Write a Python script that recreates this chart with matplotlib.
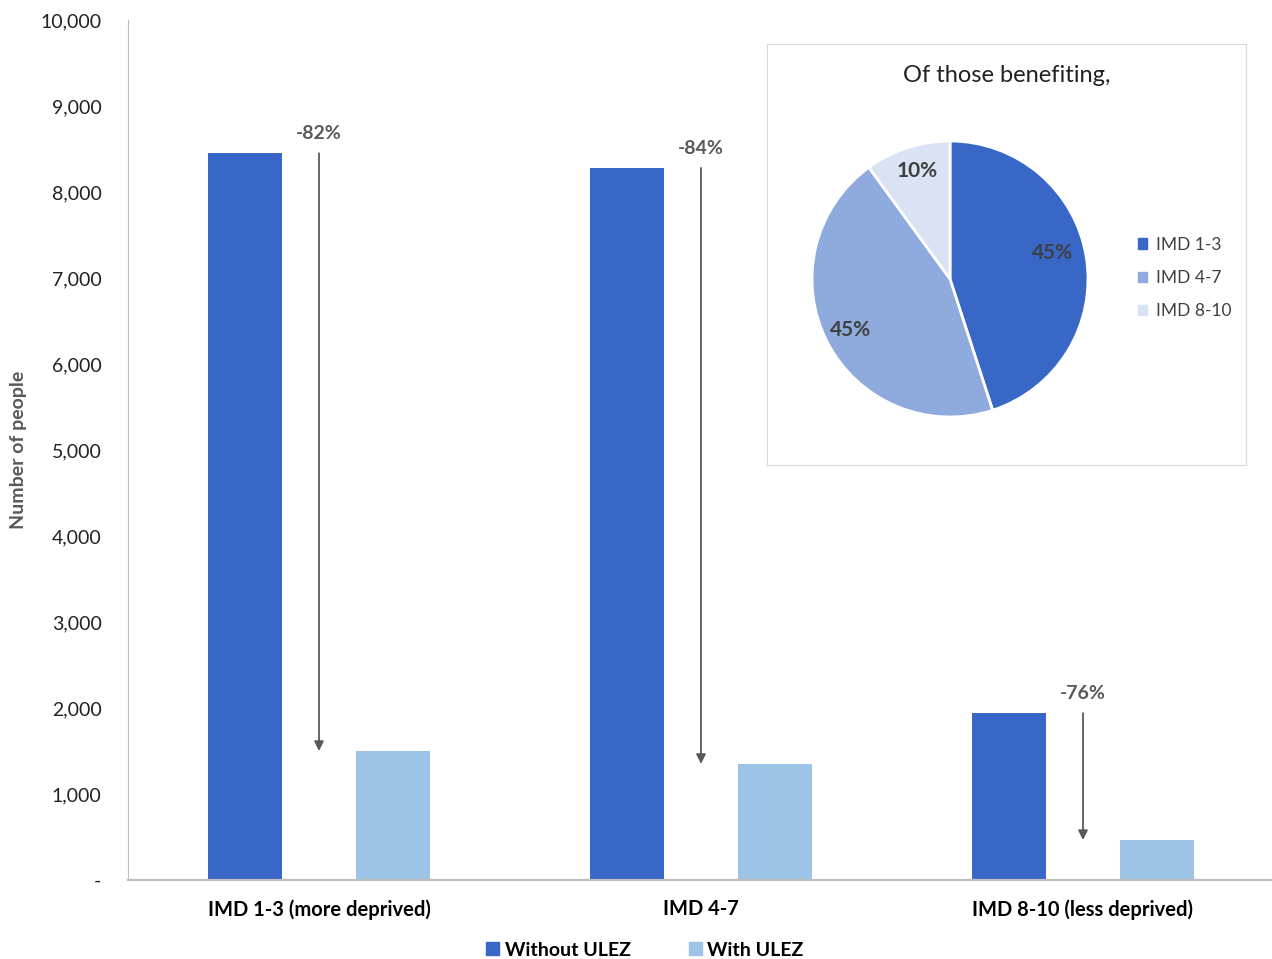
import matplotlib.pyplot as plt
from matplotlib.patches import Patch
from matplotlib.ticker import FuncFormatter

plt.rcParams['font.family'] = ['Lato', 'DejaVu Sans']

groups = ['IMD 1-3 (more deprived)', 'IMD 4-7', 'IMD 8-10 (less deprived)']
without_ulez = [8450, 8280, 1940]
with_ulez = [1500, 1350, 465]
change_labels = ['-82%', '-84%', '-76%']

pie_labels = ['IMD 1-3', 'IMD 4-7', 'IMD 8-10']
pie_shares = [45, 45, 10]

dark = '#3867C8'
light = '#9DC3E6'
pie_cols = [dark, '#8FAADC', '#DAE3F3']
grey = '#595959'

W, H = 1272, 959
fig = plt.figure(figsize=(W / 100, H / 100), dpi=100)

def px(x0, y0, x1, y1):
    return [x0 / W, (H - y1) / H, (x1 - x0) / W, (y1 - y0) / H]

ax = fig.add_axes(px(128, 20, 1274, 880))
x = range(len(groups))
bw = 0.193
ax.bar([i - bw for i in x], without_ulez, bw, color=dark, label='Without ULEZ')
ax.bar([i + bw for i in x], with_ulez, bw, color=light, label='With ULEZ')

for i in x:
    ax.annotate('', xy=(i, with_ulez[i]), xytext=(i, without_ulez[i]),
                arrowprops=dict(arrowstyle='-|>', color=grey, lw=1.3,
                                mutation_scale=14, shrinkA=0, shrinkB=0))
    ax.annotate(change_labels[i], xy=(i, without_ulez[i]), xytext=(0, 8),
                textcoords='offset points', ha='center', va='bottom',
                fontsize=14, fontweight='bold', color=grey)

ax.set_xlim(-0.5, 2.5)
ax.set_ylim(0, 10000)
ax.set_yticks(range(0, 10001, 1000))
ax.yaxis.set_major_formatter(FuncFormatter(lambda v, p: '-' if v == 0 else f'{int(v):,}'))
ax.set_xticks(list(x))
ax.set_xticklabels(groups, fontsize=14.5, fontweight='bold')
ax.tick_params(axis='y', length=0, labelsize=14, pad=19, labelcolor='#222222')
ax.tick_params(axis='x', length=0, pad=14)
for s in ['top', 'right']:
    ax.spines[s].set_visible(False)
ax.spines['left'].set_color('#BFBFBF')
ax.spines['bottom'].set_color('#BFBFBF')
ax.spines['bottom'].set_linewidth(1.6)
ax.set_ylabel('Number of people', fontsize=14, fontweight='bold', color=grey, labelpad=10)

fig.legend(handles=[Patch(color=dark, label='Without ULEZ'), Patch(color=light, label='With ULEZ')],
           loc='center', bbox_to_anchor=(645 / W, (H - 950) / H), ncol=2, frameon=False,
           prop={'size': 14, 'weight': 'bold'}, handlelength=0.65, handleheight=0.65,
           handletextpad=0.3, columnspacing=3.0)

# inset box with pie
box = fig.add_axes(px(767, 44, 1246, 465))
box.set_xticks([])
box.set_yticks([])
for s in box.spines.values():
    s.set_color('#D9D9D9')
box.text(0.5, 0.925, 'Of those benefiting,', transform=box.transAxes,
         ha='center', va='center', fontsize=17, color='#222222')

pax = fig.add_axes(px(812, 141, 1088, 417))
wedges, texts = pax.pie(pie_shares, colors=pie_cols, startangle=90, counterclock=False,
                        wedgeprops=dict(edgecolor='white', linewidth=2))
label_pos = [(0.74, 0.19), (-0.72, -0.37), (-0.24, 0.78)]
for (lx, ly), v in zip(label_pos, pie_shares):
    pax.text(lx, ly, f'{v}%', ha='center', va='center', fontsize=15,
             fontweight='bold', color='#404040')
pax.set_xlim(-1, 1)
pax.set_ylim(-1, 1)

fig.legend(handles=[Patch(color=c, label=l) for c, l in zip(pie_cols, pie_labels)],
           loc='center left', bbox_to_anchor=(1122 / W, (H - 278) / H), frameon=False,
           fontsize=12.5, handlelength=0.55, handleheight=0.55, handletextpad=0.5,
           labelspacing=1.0, labelcolor='#404040')

fig.savefig('out.png', dpi=100)
